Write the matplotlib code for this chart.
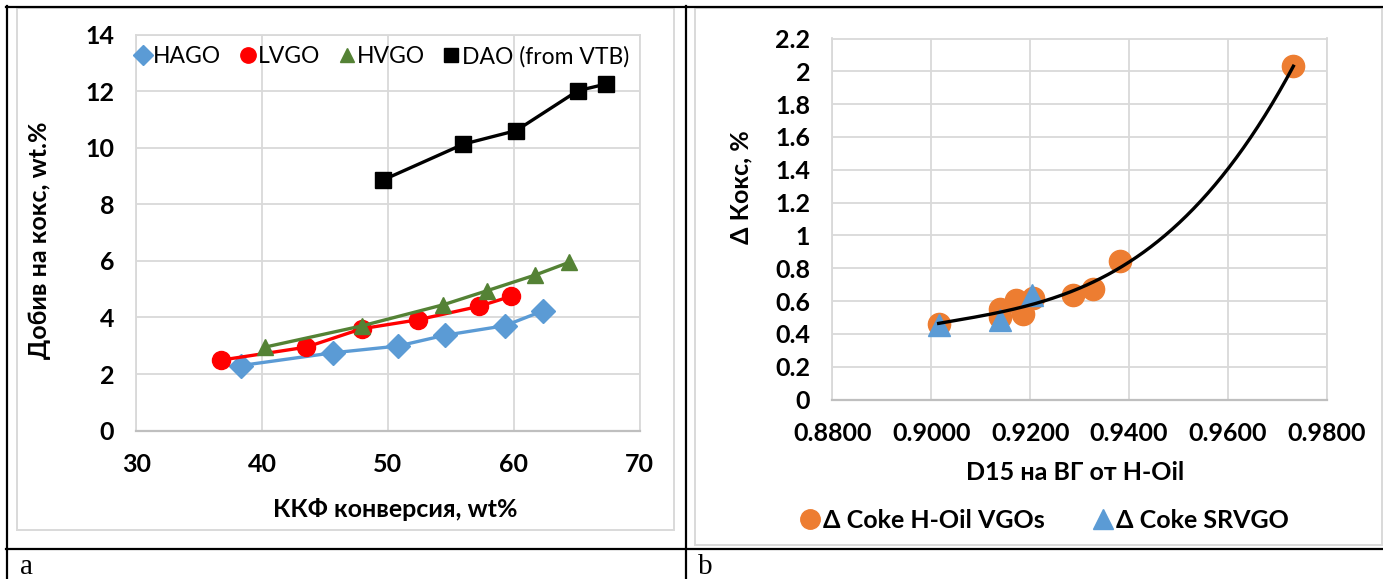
import numpy as np
import matplotlib
matplotlib.use("Agg")
import matplotlib.pyplot as plt
from matplotlib.lines import Line2D
from matplotlib.patches import Rectangle

plt.rcParams['font.family'] = ['Lato', 'Open Sans', 'DejaVu Sans']
plt.rcParams['font.weight'] = 'bold'
plt.rcParams['axes.labelweight'] = 'bold'

# ---- panel a: coke yield vs FCC conversion ----
hago_x = [38.3, 45.6, 50.8, 54.5, 59.3, 62.3]
hago_y = [2.30, 2.75, 2.99, 3.37, 3.71, 4.23]
lvgo_x = [36.7, 43.5, 47.9, 52.4, 57.2, 59.8]
lvgo_y = [2.49, 2.95, 3.60, 3.92, 4.39, 4.75]
hvgo_x = [40.2, 47.9, 54.4, 57.9, 61.7, 64.4]
hvgo_y = [2.95, 3.70, 4.45, 4.95, 5.50, 5.95]
dao_x = [49.6, 56.0, 60.2, 65.1, 67.3]
dao_y = [8.86, 10.13, 10.61, 12.02, 12.25]
a_xticks = [30, 40, 50, 60, 70]
a_yticks = [0, 2, 4, 6, 8, 10, 12, 14]
a_names = ['HAGO', 'LVGO', 'HVGO', 'DAO (from VTB)']

# ---- panel b: delta coke vs density ----
hoil_x = [0.9015, 0.9138, 0.9138, 0.9171, 0.9185, 0.9205, 0.9287, 0.9326, 0.9382, 0.9732]
hoil_y = [0.46, 0.55, 0.50, 0.605, 0.52, 0.62, 0.635, 0.673, 0.844, 2.03]
srvgo_x = [0.9015, 0.9138, 0.9203]
srvgo_y = [0.452, 0.483, 0.638]
b_xticks = [0.88, 0.90, 0.92, 0.94, 0.96, 0.98]
b_xticklabels = ['0.8800', '0.9000', '0.9200', '0.9400', '0.9600', '0.9800']
b_yticks = [0, 0.2, 0.4, 0.6, 0.8, 1.0, 1.2, 1.4, 1.6, 1.8, 2.0, 2.2]
b_yticklabels = ['0', '0.2', '0.4', '0.6', '0.8', '1', '1.2', '1.4', '1.6', '1.8', '2', '2.2']
b_names = ['\u0394 Coke H-Oil VGOs', '\u0394 Coke SRVGO']

W, H = 1383, 579
fig = plt.figure(figsize=(W / 100, H / 100), dpi=100)

GRID = '#D9D9D9'


def px_rect(x0, y0, x1, y1):
    return [x0 / W, 1 - y1 / H, (x1 - x0) / W, (y1 - y0) / H]


def style_axes(ax):
    ax.grid(True, color=GRID, linewidth=1.3)
    ax.set_axisbelow(True)
    for s in ax.spines.values():
        s.set_color(GRID)
        s.set_linewidth(1.3)
    ax.spines['bottom'].set_color('#BFBFBF')
    ax.spines['bottom'].set_linewidth(1.6)
    ax.tick_params(length=0, labelsize=18, pad=16)


# table frame and chart borders
frame = fig.add_axes([0, 0, 1, 1], zorder=-5)
frame.set_xlim(0, W)
frame.set_ylim(H, 0)
frame.axis('off')
frame.add_patch(Rectangle((16.5, 8), 657, 522, fill=False, ec=GRID, lw=1.4))
frame.add_patch(Rectangle((695, 8), 687, 537, fill=False, ec=GRID, lw=1.4))
frame.plot([6, W], [7, 7], color='black', lw=1.6)
frame.plot([7, 7], [6, H], color='black', lw=1.6)
frame.plot([686, 686], [6, H], color='black', lw=1.6)
frame.plot([6, W], [549, 549], color='black', lw=1.6)
frame.text(20, 574, 'a', fontsize=21, family='Liberation Serif', fontweight='normal', va='baseline')
frame.text(698, 574, 'b', fontsize=21, family='Liberation Serif', fontweight='normal', va='baseline')

# ---- panel a ----
ax1 = fig.add_axes(px_rect(136.4, 34.7, 639.5, 430.6))
series_a = [
    (hago_x, hago_y, '#5B9BD5', 'D', 12),
    (lvgo_x, lvgo_y, '#FF0000', 'o', 13),
    (hvgo_x, hvgo_y, '#548235', '^', 12),
    (dao_x, dao_y, '#000000', 's', 12),
]
handles = []
for (xs, ys, c, m, ms), name in zip(series_a, a_names):
    ax1.plot(xs, ys, color=c, lw=2.4, marker=m, ms=ms, mec=c, mfc=c, zorder=3)
    handles.append(Line2D([], [], ls='none', marker=m, color=c, ms=ms * 0.85, label=name))
ax1.set_xlim(30, 70)
ax1.set_ylim(0, 14)
ax1.set_xticks(a_xticks)
ax1.set_yticks(a_yticks)
style_axes(ax1)
ax1.set_xlabel('ККФ конверсия, wt%', fontsize=18, va='center')
ax1.xaxis.set_label_coords(0.515, -0.20)
ax1.set_ylabel('Добив на кокс, wt.%', fontsize=18, va='center')
ax1.yaxis.set_label_coords(-0.192, 0.48)
ax1.legend(handles=handles, loc='center', bbox_to_anchor=(0.488, 0.945), ncol=4,
           frameon=False, prop={'size': 16.5, 'weight': 'normal'}, handlelength=0.7,
           handletextpad=0.1, columnspacing=0.8, borderaxespad=0)

# ---- panel b ----
ax2 = fig.add_axes(px_rect(832.3, 38.5, 1327.0, 399.5))
ax2.plot(hoil_x, hoil_y, ls='none', marker='o', ms=16, color='#ED7D31', zorder=3)
ax2.plot(srvgo_x, srvgo_y, ls='none', marker='^', ms=16, color='#5B9BD5', zorder=4)
coef = np.polyfit(hoil_x, hoil_y, 3)
xf = np.linspace(min(hoil_x), max(hoil_x), 200)
ax2.plot(xf, np.polyval(coef, xf), color='black', lw=2.4, zorder=5)
ax2.set_xlim(0.88, 0.98)
ax2.set_ylim(0, 2.2)
ax2.set_xticks(b_xticks)
ax2.set_xticklabels(b_xticklabels)
ax2.set_yticks(b_yticks)
ax2.set_yticklabels(b_yticklabels)
style_axes(ax2)
ax2.set_xlabel('D15 на ВГ от H-Oil', fontsize=18, va='center')
ax2.xaxis.set_label_coords(0.49, -0.203)
ax2.set_ylabel('\u0394 Кокс, %', fontsize=18, va='center')
ax2.yaxis.set_label_coords(-0.185, 0.589)
hb = [Line2D([], [], ls='none', marker='o', ms=14, color='#ED7D31', label=b_names[0]),
      Line2D([], [], ls='none', marker='^', ms=14, color='#5B9BD5', label=b_names[1])]
ax2.legend(handles=hb, loc='center', bbox_to_anchor=(0.43, -0.335), ncol=2,
           frameon=False, prop={'size': 18, 'weight': 'bold'}, handlelength=0.7,
           handletextpad=0.15, columnspacing=2.0, borderaxespad=0)

fig.savefig('out.png', dpi=100)
